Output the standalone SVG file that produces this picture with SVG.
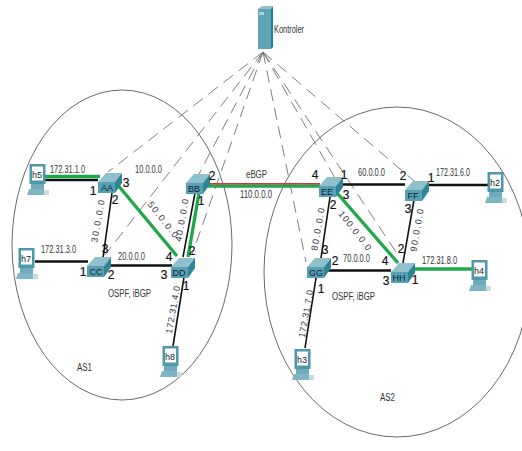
<svg xmlns="http://www.w3.org/2000/svg" width="522" height="451" viewBox="0 0 522 451">
<style>
text{font-family:"Liberation Sans",Arial,sans-serif;fill:#333}
.l{font-size:10px}
.n{font-size:9px;text-anchor:middle;fill:#123}
.p{font-size:12px;fill:#111;text-anchor:middle;stroke:#111;stroke-width:.2}
.r{font-size:9px;text-anchor:middle;fill:#334;letter-spacing:1.500px}
.s{letter-spacing:.6px}
.e{fill:none;stroke:#444;stroke-width:.8}
.d{stroke:#707070;stroke-width:.9;stroke-dasharray:12 7;fill:none}
.k{stroke:#111;fill:none}
.g{stroke:#1fa84a;fill:none;stroke-width:3.300}
</style>
<defs>
<g id="sw">
<polygon points="0,9 8,0 24,0 17,9" fill="#8fc0cc"/>
<polygon points="17,9 24,0 24,10 17,20" fill="#2f8496"/>
<rect x="0" y="9" width="17" height="11" fill="#58a0b3"/>
</g>
<g id="pc">
<rect x="1.500" y="0" width="16" height="20" fill="#4f97aa"/>
<rect x="4" y="2.500" width="11" height="14" fill="#fff"/>
<polygon points="3,20 16,20 16,25 3,25" fill="#6fabbb"/>
<polygon points="1,25 16,25 19,31 -1,31" fill="#7fb6c4"/>
<rect x="16" y="26" width="5" height="5" fill="#c5dde3"/>
</g>
</defs>
<ellipse class="e" cx="122" cy="245" rx="110" ry="155"/>
<ellipse class="e" cx="397" cy="272" rx="133" ry="165"/>
<g id="connectors">
<path class="d" d="M263 52L108 172M263 52L105 255M263 52L199 174M263 52L192 255M263 52L335 178M263 52L420 186M263 52L306 262M263 52L398 255"/>
<path class="k" stroke-width="2.500" d="M43 180H98M35 261.500H88M108 265.500H172M340 184.500H405M427 185H488M328 270.500H391"/>
<path class="k" stroke-width="1.600" d="M112 193L103 258M195 193L183 257M184 277L173 346M330 197L321 258M414 200L403 263M316 278L305 348"/>
<path class="g" d="M43 176.500H100M117 184L177 256M337 193L398 263M413 269H472M205 186H320"/>
<path class="g" stroke-width="2.500" d="M199 193L188 257"/>
<path stroke="#d8343a" stroke-width="1.500" fill="none" d="M205 183.700H320"/>
</g>
<g id="Kontroler">
<polygon points="258,9 262,6 273,6 271,9" fill="#8fc0cc"/>
<rect x="258" y="9" width="13" height="40" fill="#5fa3b5"/>
<polygon points="271,9 273,6 273,47 271,49" fill="#1f7f93"/>
<rect x="259" y="12" width="5" height="3" fill="#a9d0da"/>
<text class="l" x="274" y="33" textLength="30" lengthAdjust="spacingAndGlyphs">Kontroler</text>
</g>
<g id="AA"><use href="#sw" x="98" y="173"/><text class="n" x="107" y="191">AA</text></g>
<g id="BB"><use href="#sw" x="186" y="174"/><text class="n" x="194" y="192">BB</text></g>
<g id="CC"><use href="#sw" x="87" y="257"/><text class="n" x="96" y="275">CC</text></g>
<g id="DD"><use href="#sw" x="171" y="258"/><text class="n" x="179" y="276">DD</text></g>
<g id="EE"><use href="#sw" x="319" y="177"/><text class="n" x="327" y="195">EE</text></g>
<g id="FF"><use href="#sw" x="405" y="181"/><text class="n" x="413" y="199">FF</text></g>
<g id="GG"><use href="#sw" x="307" y="258"/><text class="n" x="316" y="276">GG</text></g>
<g id="HH"><use href="#sw" x="391" y="263"/><text class="n" x="399" y="281">HH</text></g>
<g id="h5"><use href="#pc" x="28" y="164"/><text class="n" x="37" y="178">h5</text></g>
<g id="h7"><use href="#pc" x="17" y="248"/><text class="n" x="26" y="262">h7</text></g>
<g id="h8"><use href="#pc" x="161" y="346"/><text class="n" x="170" y="360">h8</text></g>
<g id="h3"><use href="#pc" x="293" y="349"/><text class="n" x="302" y="363">h3</text></g>
<g id="h2"><use href="#pc" x="486" y="172"/><text class="n" x="495" y="186">h2</text></g>
<g id="h4"><use href="#pc" x="470" y="260"/><text class="n" x="479" y="274">h4</text></g>
<g id="labels">
<text class="l" x="50" y="173" textLength="35" lengthAdjust="spacingAndGlyphs">172.31.1.0</text>
<text class="l" x="135" y="173" textLength="27" lengthAdjust="spacingAndGlyphs">10.0.0.0</text>
<text class="l" x="41" y="253" textLength="35" lengthAdjust="spacingAndGlyphs">172.31.3.0</text>
<text class="l" x="118" y="260" textLength="27" lengthAdjust="spacingAndGlyphs">20.0.0.0</text>
<text class="l" x="108" y="297" textLength="43" lengthAdjust="spacingAndGlyphs">OSPF, iBGP</text>
<text class="l" x="77" y="371" textLength="15" lengthAdjust="spacingAndGlyphs">AS1</text>
<text class="l" x="246" y="178" textLength="21" lengthAdjust="spacingAndGlyphs">eBGP</text>
<text class="l" x="240" y="198" textLength="32" lengthAdjust="spacingAndGlyphs">110.0.0.0</text>
<text class="l" x="358" y="176" textLength="27" lengthAdjust="spacingAndGlyphs">60.0.0.0</text>
<text class="l" x="436" y="176" textLength="34" lengthAdjust="spacingAndGlyphs">172.31.6.0</text>
<text class="l" x="343" y="262" textLength="27" lengthAdjust="spacingAndGlyphs">70.0.0.0</text>
<text class="l" x="422" y="264" textLength="35" lengthAdjust="spacingAndGlyphs">172.31.8.0</text>
<text class="l" x="332" y="300" textLength="43" lengthAdjust="spacingAndGlyphs">OSPF, iBGP</text>
<text class="l" x="380" y="401" textLength="15" lengthAdjust="spacingAndGlyphs">AS2</text>
<text class="r" transform="translate(101 221) rotate(-80)">30.0.0.0</text>
<text class="r" transform="translate(161 222) rotate(52)">50.0.0.0</text>
<text class="r" transform="translate(185 220) rotate(-80)">40.0.0.0</text>
<text class="r" transform="translate(321 229) rotate(-80)">80.0.0.0</text>
<text class="r" transform="translate(353 233) rotate(52)" style="letter-spacing:1.200px">100.0.0.0</text>
<text class="r" transform="translate(420 230) rotate(-80)">90.0.0.0</text>
<text class="r s" transform="translate(176 310) rotate(-80)">172.31.4.0</text>
<text class="r s" transform="translate(309 314) rotate(-80)">172.31.7.0</text>
<text class="p" x="93" y="195">1</text><text class="p" x="115" y="204">2</text><text class="p" x="126" y="187">3</text>
<text class="p" x="83" y="276">1</text><text class="p" x="111" y="279">2</text><text class="p" x="105" y="253">3</text>
<text class="p" x="164" y="279">3</text><text class="p" x="169" y="261">4</text><text class="p" x="192" y="255">2</text><text class="p" x="186" y="290">1</text>
<text class="p" x="201" y="205">1</text><text class="p" x="212" y="180">2</text>
<text class="p" x="315" y="179">4</text><text class="p" x="344" y="179">1</text><text class="p" x="333" y="209">2</text><text class="p" x="346" y="199">3</text>
<text class="p" x="403" y="180">2</text><text class="p" x="431" y="182">1</text><text class="p" x="408" y="213">3</text>
<text class="p" x="401" y="253">2</text><text class="p" x="385" y="265">4</text><text class="p" x="386" y="285">3</text><text class="p" x="415" y="284">1</text>
<text class="p" x="325" y="254">3</text><text class="p" x="335" y="265">2</text><text class="p" x="321" y="293">1</text>
</g>
</svg>
